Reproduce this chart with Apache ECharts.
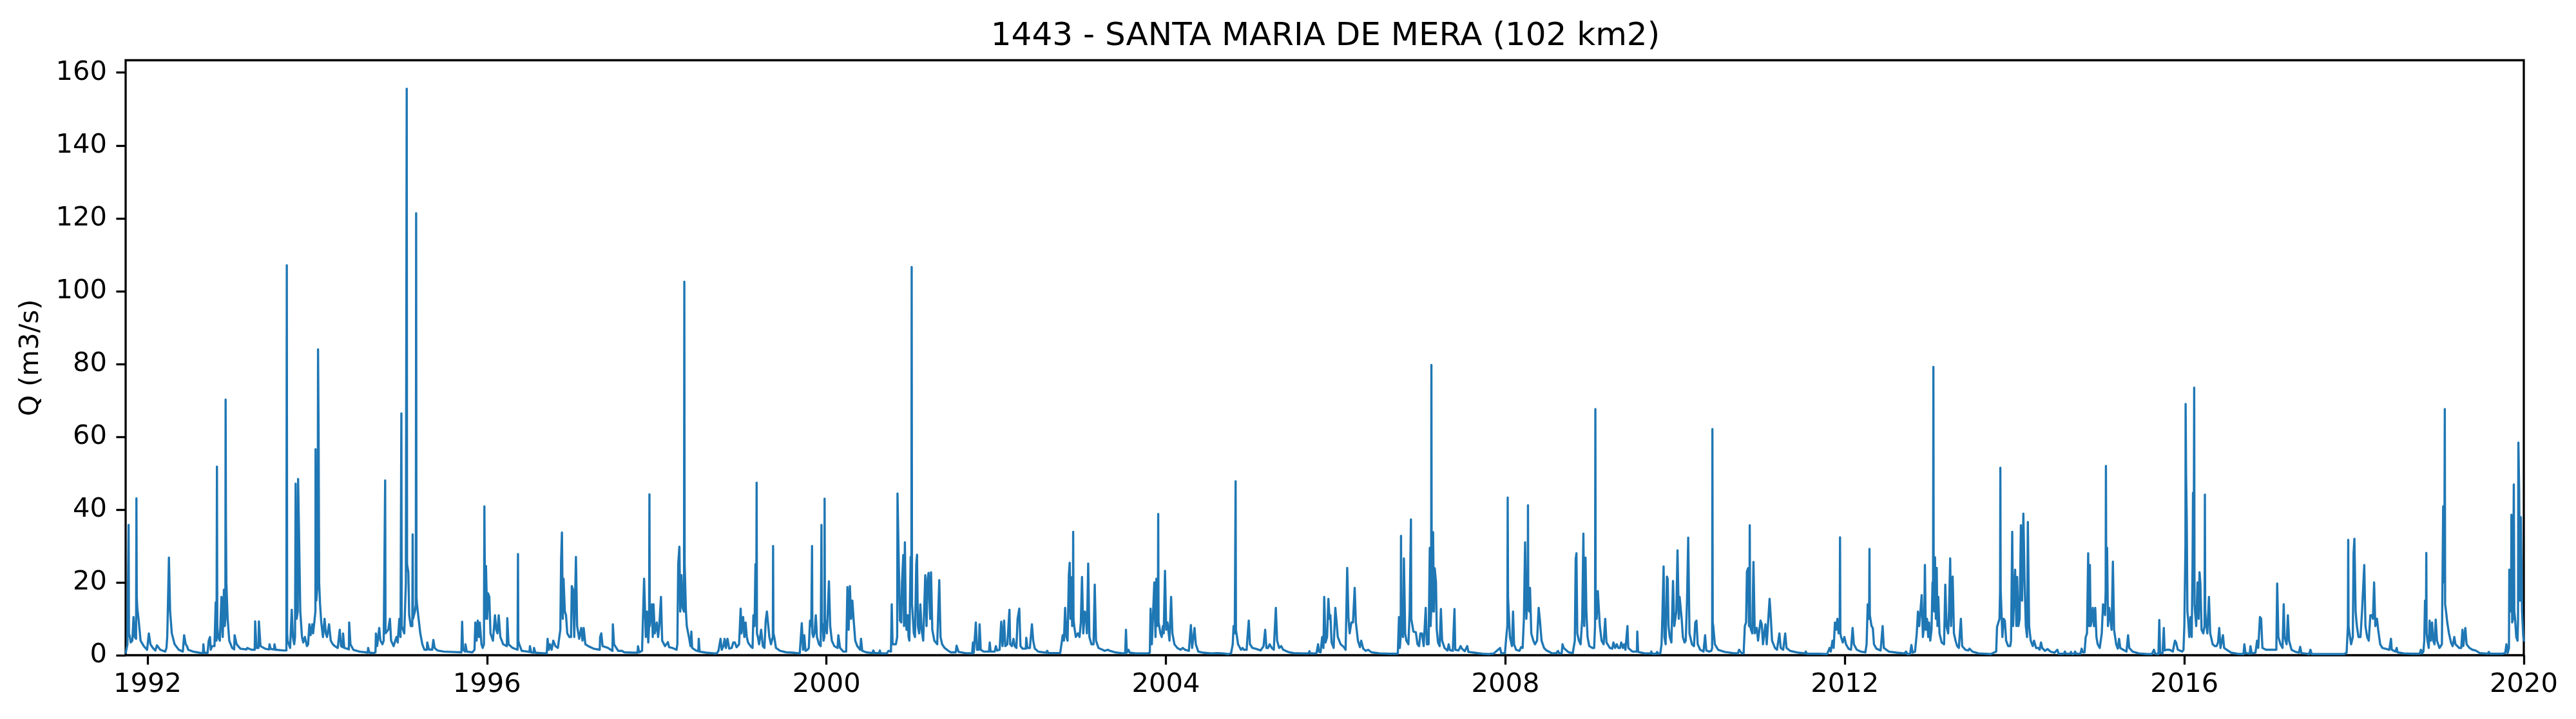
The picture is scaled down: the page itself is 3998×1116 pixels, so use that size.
<!DOCTYPE html>
<html><head><meta charset="utf-8">
<style>html,body{margin:0;padding:0;background:#fff}#c{width:3998px;height:1116px}</style>
<script src="https://cdn.jsdelivr.net/npm/echarts@6/dist/echarts.min.js"></script>
</head><body><div id="c"></div>
<script>
const titleText = '1443 - SANTA MARIA DE MERA (102 km2)';
const yName = 'Q (m3/s)';
const xTicks = [1992,1996,2000,2004,2008,2012,2016,2020];
const yTicks = [0,20,40,60,80,100,120,140,160];
const flow1991 = [[1991.743,.7],[1991.763,3],[1991.775,3],[1991.777,35.8],[1991.781,6],[1991.792,5],[1991.802,3.5],[1991.821,4],[1991.835,10.5],[1991.850,5],[1991.865,4.5],[1991.869,43.1],[1991.873,16],[1991.879,13],[1991.898,9],[1991.918,4],[1991.956,2.5],[1991.995,1.5]];
const flow1992 = [[1992.010,1.2],[1992.015,6],[1992.034,3],[1992.063,2],[1992.092,1.3],[1992.111,2.7],[1992.150,1.5],[1992.208,1],[1992.223,2],[1992.232,5],[1992.237,10],[1992.252,26.8],[1992.266,12],[1992.286,6],[1992.319,3],[1992.368,1.5],[1992.416,1],[1992.426,1],[1992.431,5.5],[1992.450,3],[1992.465,2.5],[1992.479,1.5],[1992.537,1],[1992.586,.8],[1992.634,.6],[1992.653,.6],[1992.658,3],[1992.668,.7],[1992.707,.6],[1992.721,4],[1992.736,5],[1992.745,1.5],[1992.760,2.5],[1992.789,2.5],[1992.803,14.5],[1992.813,4],[1992.818,51.8],[1992.822,8],[1992.832,5],[1992.852,4],[1992.871,16],[1992.886,5],[1992.900,18],[1992.910,8],[1992.917,10],[1992.920,70.2],[1992.924,36],[1992.929,20],[1992.944,10],[1992.963,4],[1992.997,2]];
const flow1993 = [[1993.021,1.6],[1993.026,5.5],[1993.050,3],[1993.094,1.8],[1993.166,1.6],[1993.176,2],[1993.225,1.5],[1993.263,1.5],[1993.268,9.3],[1993.283,2],[1993.307,2],[1993.312,9.3],[1993.331,2.5],[1993.384,1.8],[1993.433,1.6],[1993.437,3],[1993.452,1.7],[1993.491,1.6],[1993.496,3],[1993.510,1.5],[1993.602,1.3],[1993.636,1.3],[1993.641,107.1],[1993.645,6],[1993.650,4],[1993.680,2],[1993.694,2],[1993.699,12.5],[1993.713,5],[1993.728,3],[1993.738,5],[1993.745,47.1],[1993.757,10],[1993.770,12],[1993.774,48.4],[1993.786,32],[1993.800,12],[1993.820,5],[1993.834,3.5],[1993.854,5],[1993.878,2.5],[1993.892,3],[1993.907,8.5],[1993.921,5.5],[1993.941,8.5],[1993.951,6],[1993.965,9],[1993.978,12],[1993.980,56.6],[1993.989,15]];
const flow1994 = [[1994.005,20],[1994.009,84],[1994.016,59.6],[1994.022,20],[1994.033,14],[1994.047,9],[1994.067,5],[1994.086,10],[1994.101,6],[1994.115,5],[1994.139,8.5],[1994.159,4],[1994.183,3],[1994.207,2.5],[1994.241,2],[1994.265,7],[1994.280,2.5],[1994.299,2.2],[1994.304,6],[1994.318,2],[1994.352,1.8],[1994.372,1.6],[1994.376,9],[1994.391,3],[1994.425,1.5],[1994.497,1],[1994.570,.8],[1994.594,.7],[1994.599,2],[1994.614,.7],[1994.667,.6],[1994.686,.8],[1994.691,6],[1994.706,2.5],[1994.730,7.5],[1994.744,4],[1994.768,3],[1994.783,4],[1994.796,4],[1994.800,48],[1994.804,6],[1994.836,7],[1994.856,10],[1994.870,4],[1994.899,2.5],[1994.933,5],[1994.948,3.5],[1994.967,10],[1994.981,5],[1994.988,5],[1994.991,66.4],[1994.995,8]];
const flow1995 = [[1995.025,6],[1995.044,20],[1995.051,20],[1995.054,155.6],[1995.058,25],[1995.073,22.8],[1995.083,11],[1995.102,8],[1995.120,8],[1995.124,33.2],[1995.128,10],[1995.151,12],[1995.161,14],[1995.165,121.4],[1995.169,16],[1995.175,14],[1995.194,10],[1995.214,6],[1995.238,3],[1995.262,1.5],[1995.291,1.5],[1995.296,3.5],[1995.315,1.6],[1995.354,1.5],[1995.368,4.2],[1995.383,2],[1995.417,1.3],[1995.490,1],[1995.586,.9],[1995.698,.8],[1995.707,9.2],[1995.717,1.5],[1995.741,1],[1995.746,3],[1995.761,1],[1995.828,.8],[1995.853,1.5],[1995.862,9],[1995.877,4],[1995.891,9.5],[1995.906,5],[1995.915,9],[1995.935,3],[1995.949,2],[1995.964,3],[1995.969,40.9],[1995.978,10],[1995.988,24.5]];
const flow1996 = [[1996.002,10],[1996.012,17],[1996.027,16],[1996.041,6],[1996.070,4],[1996.094,11],[1996.109,7],[1996.123,6],[1996.138,11],[1996.157,5],[1996.191,3],[1996.234,2.5],[1996.239,10.2],[1996.254,3],[1996.302,2],[1996.360,1.5],[1996.365,27.8],[1996.369,4],[1996.380,3],[1996.409,1.2],[1996.481,1],[1996.501,.9],[1996.506,2.5],[1996.520,.8],[1996.549,.7],[1996.554,2],[1996.569,.7],[1996.627,.6],[1996.704,.5],[1996.714,4.5],[1996.728,1.5],[1996.743,3],[1996.762,1.5],[1996.781,4],[1996.806,2.5],[1996.835,2],[1996.864,7],[1996.873,26],[1996.883,33.7],[1996.893,10],[1996.902,21],[1996.917,12],[1996.931,11],[1996.946,6],[1996.970,5],[1996.990,5],[1996.999,19]];
const flow1997 = [[1997.014,18],[1997.028,5],[1997.043,5],[1997.048,27],[1997.062,8],[1997.086,4.5],[1997.110,7.5],[1997.125,4],[1997.139,7.5],[1997.159,3],[1997.193,2.5],[1997.256,1.8],[1997.328,1.5],[1997.333,5],[1997.347,6],[1997.362,2.5],[1997.425,2],[1997.478,1.2],[1997.483,8.5],[1997.497,3],[1997.546,1.2],[1997.590,1.2],[1997.619,.8],[1997.716,.7],[1997.774,.7],[1997.779,2.5],[1997.793,.8],[1997.827,1.2],[1997.842,1.5],[1997.851,21],[1997.871,5],[1997.885,12],[1997.900,3.5],[1997.910,8],[1997.914,44.2],[1997.918,8],[1997.943,14],[1997.953,5],[1997.962,14],[1997.977,6]];
const flow1998 = [[1998.001,9],[1998.016,5],[1998.030,8],[1998.050,16],[1998.064,4],[1998.098,2.5],[1998.132,3.6],[1998.146,2.2],[1998.185,2],[1998.233,1.5],[1998.243,3],[1998.253,25],[1998.267,29.8],[1998.277,12],[1998.291,22],[1998.306,13],[1998.321,12],[1998.325,102.6],[1998.329,25],[1998.335,25],[1998.344,12],[1998.354,8],[1998.379,5],[1998.398,2.5],[1998.408,6.5],[1998.417,2],[1998.461,1.3],[1998.490,1.1],[1998.495,4.5],[1998.505,1],[1998.582,.7],[1998.679,.5],[1998.708,.5],[1998.727,1.2],[1998.752,4.5],[1998.766,1.5],[1998.786,2.5],[1998.800,4.5],[1998.815,2],[1998.834,4.5],[1998.854,1.8],[1998.883,2],[1998.902,3.5],[1998.921,3.5],[1998.941,2.2],[1998.970,3],[1998.989,12.8],[1998.998,6]];
const flow1999 = [[1999.018,10.5],[1999.032,5],[1999.047,9],[1999.061,5],[1999.076,3.5],[1999.105,2.5],[1999.129,2],[1999.139,11],[1999.153,8],[1999.163,25],[1999.173,12],[1999.177,47.4],[1999.181,6],[1999.192,5],[1999.206,3],[1999.230,7],[1999.250,2.5],[1999.269,2],[1999.284,9.5],[1999.298,12],[1999.313,12],[1999.327,5],[1999.346,3],[1999.368,5],[1999.371,30],[1999.375,6],[1999.385,5],[1999.405,2],[1999.453,1.2],[1999.526,.8],[1999.598,.7],[1999.685,.5],[1999.700,.5],[1999.709,8.8],[1999.724,1.5],[1999.738,5.5],[1999.753,1.2],[1999.777,1.5],[1999.792,2],[1999.806,9.5],[1999.821,8],[1999.827,8],[1999.830,30],[1999.834,6],[1999.845,5],[1999.859,6],[1999.874,11],[1999.888,5],[1999.912,3],[1999.932,2.5],[1999.941,35.8],[1999.945,9],[1999.956,8],[1999.966,4],[1999.975,5],[1999.978,43],[1999.982,10],[1999.990,8]];
const flow2000 = [[2000.005,6],[2000.029,20.3],[2000.044,8],[2000.063,4],[2000.092,2.5],[2000.131,2],[2000.140,5.5],[2000.160,2],[2000.198,1],[2000.232,1],[2000.247,18.7],[2000.261,7],[2000.276,19],[2000.290,10],[2000.305,15],[2000.319,10],[2000.339,4],[2000.363,2.5],[2000.397,1.5],[2000.407,4.5],[2000.421,1.2],[2000.469,.8],[2000.542,.6],[2000.552,1.3],[2000.566,.6],[2000.619,.6],[2000.629,1.3],[2000.639,.5],[2000.711,.5],[2000.731,1.2],[2000.745,1.5],[2000.760,1],[2000.769,14],[2000.779,3],[2000.798,3],[2000.818,3],[2000.833,5],[2000.837,44.4],[2000.852,25],[2000.866,9.5],[2000.881,9],[2000.890,20],[2000.905,27.5],[2000.914,8],[2000.924,31],[2000.934,12],[2000.943,7],[2000.958,11],[2000.967,5],[2000.977,4],[2000.992,27]];
const flow2001 = [[2001.000,15],[2001.004,106.6],[2001.008,14],[2001.014,12],[2001.029,6],[2001.043,5],[2001.058,25],[2001.067,27.6],[2001.077,8],[2001.092,6],[2001.106,14],[2001.121,7],[2001.140,4],[2001.150,4],[2001.164,22],[2001.179,8],[2001.193,21],[2001.203,22.6],[2001.213,22.7],[2001.222,10],[2001.232,22.8],[2001.247,7],[2001.271,4],[2001.305,3],[2001.329,20.6],[2001.344,5],[2001.363,3],[2001.392,2],[2001.431,1.3],[2001.465,.8],[2001.523,.8],[2001.533,2.6],[2001.542,2.6],[2001.557,.9],[2001.634,.6],[2001.716,.5],[2001.726,3.5],[2001.736,.7],[2001.750,.7],[2001.760,9],[2001.774,1.5],[2001.794,1.5],[2001.804,8.5],[2001.818,1.5],[2001.852,1],[2001.915,1],[2001.924,3.5],[2001.934,1],[2001.982,1],[2001.996,2.5]];
const flow2002 = [[2002.011,1.3],[2002.040,1.5],[2002.059,9.2],[2002.074,2.5],[2002.093,9.5],[2002.107,2.5],[2002.131,3],[2002.156,12.5],[2002.165,3],[2002.185,2.5],[2002.204,4.5],[2002.218,2.5],[2002.238,2],[2002.252,10],[2002.272,12.8],[2002.286,2.5],[2002.311,1.8],[2002.349,1.8],[2002.354,4.8],[2002.368,2],[2002.397,2],[2002.421,8.5],[2002.436,4],[2002.455,1.8],[2002.494,1],[2002.552,.8],[2002.596,.7],[2002.600,1.2],[2002.615,.6],[2002.696,.6],[2002.754,.6],[2002.769,3],[2002.783,5.5],[2002.798,4],[2002.812,13],[2002.827,5],[2002.841,4],[2002.856,22],[2002.866,25.4],[2002.875,10],[2002.885,21.4],[2002.895,8],[2002.903,9],[2002.907,33.9],[2002.911,10],[2002.919,8],[2002.938,5],[2002.962,6],[2002.982,5],[2002.997,9]];
const flow2003 = [[2003.011,21.5],[2003.026,6],[2003.045,12],[2003.060,10],[2003.069,6],[2003.084,25.2],[2003.098,5],[2003.122,3],[2003.147,3],[2003.161,19.4],[2003.176,4],[2003.205,2],[2003.253,1.5],[2003.277,1.2],[2003.316,1.5],[2003.340,1.2],[2003.398,.8],[2003.471,.6],[2003.520,.5],[2003.529,7],[2003.539,.7],[2003.558,1.5],[2003.573,.7],[2003.640,.5],[2003.785,.5],[2003.810,.7],[2003.819,12.8],[2003.834,3],[2003.848,3],[2003.863,20],[2003.877,5],[2003.887,21],[2003.897,8],[2003.905,9],[2003.909,38.8],[2003.913,9],[2003.921,8],[2003.935,6],[2003.950,5],[2003.964,8],[2003.974,6],[2003.989,23.2]];
const flow2004 = [[2004.003,7],[2004.018,9],[2004.032,9],[2004.042,4],[2004.061,16],[2004.076,6],[2004.100,3],[2004.134,2],[2004.173,1.5],[2004.197,2],[2004.226,1.5],[2004.270,1.2],[2004.294,8.3],[2004.308,2],[2004.337,7.5],[2004.352,3],[2004.381,1],[2004.439,.7],[2004.536,.5],[2004.608,.6],[2004.618,.5],[2004.671,.5],[2004.729,.3],[2004.767,.5],[2004.787,3],[2004.797,8],[2004.811,6],[2004.817,6],[2004.821,47.8],[2004.825,7],[2004.831,6],[2004.850,3],[2004.884,1.5],[2004.903,2],[2004.918,1.5],[2004.951,1.5],[2004.961,5],[2004.976,9.5],[2004.990,3]];
const flow2005 = [[2005.019,2],[2005.068,1.7],[2005.116,1.3],[2005.150,2.5],[2005.169,7],[2005.184,2],[2005.203,2],[2005.222,3],[2005.247,2],[2005.271,1.5],[2005.295,13],[2005.310,4],[2005.334,2],[2005.358,2.5],[2005.382,1.5],[2005.431,1],[2005.454,.8],[2005.503,.6],[2005.599,.5],[2005.682,.5],[2005.691,1.1],[2005.701,.5],[2005.773,.5],[2005.793,3],[2005.802,1],[2005.822,.8],[2005.841,5],[2005.856,2],[2005.865,16],[2005.880,3.5],[2005.899,5],[2005.914,15.5],[2005.928,10],[2005.938,11],[2005.952,3.5],[2005.976,2],[2005.996,13]];
const flow2006 = [[2006.011,9],[2006.025,5],[2006.059,3],[2006.098,2.2],[2006.117,1.5],[2006.136,24],[2006.151,10],[2006.165,6],[2006.185,9],[2006.204,9],[2006.224,18.5],[2006.238,9],[2006.262,4],[2006.286,2.2],[2006.301,4],[2006.325,1.8],[2006.354,1.2],[2006.383,1.5],[2006.422,.8],[2006.519,.5],[2006.640,.4],[2006.732,.4],[2006.746,10.5],[2006.756,2],[2006.766,5],[2006.770,32.8],[2006.774,8],[2006.785,8],[2006.794,5],[2006.804,26.6],[2006.819,6],[2006.833,4],[2006.857,3],[2006.872,12],[2006.884,12],[2006.887,37.3],[2006.891,10],[2006.916,6.5],[2006.945,6.3],[2006.964,3],[2006.983,2.5],[2006.998,6]];
const flow2007 = [[2007.017,6],[2007.037,2.5],[2007.061,13],[2007.075,3],[2007.095,3],[2007.109,29.5],[2007.119,8],[2007.125,12],[2007.128,79.7],[2007.132,12],[2007.138,12],[2007.148,33.8],[2007.157,12],[2007.167,23.9],[2007.182,20],[2007.191,7],[2007.206,3.5],[2007.225,2.5],[2007.240,12.7],[2007.254,4],[2007.283,2],[2007.317,1.3],[2007.332,3],[2007.346,1.4],[2007.380,1.2],[2007.400,12.7],[2007.409,1.5],[2007.448,1.3],[2007.472,2.5],[2007.487,1.8],[2007.521,1.1],[2007.550,2.5],[2007.564,.9],[2007.632,.7],[2007.729,.4],[2007.802,.3],[2007.835,.4],[2007.859,.4],[2007.874,.5],[2007.937,2],[2007.952,.5],[2007.995,.6]];
const flow2008 = [[2008.010,5],[2008.023,8],[2008.027,43.3],[2008.031,16],[2008.039,16],[2008.053,5],[2008.077,2.5],[2008.090,12],[2008.102,3],[2008.126,1.5],[2008.165,1.2],[2008.184,2.2],[2008.203,2],[2008.218,10],[2008.232,31],[2008.247,10],[2008.257,15],[2008.263,14],[2008.266,41.2],[2008.270,13],[2008.281,12],[2008.290,18.5],[2008.305,6],[2008.329,4],[2008.348,3],[2008.373,4],[2008.392,13],[2008.407,9.5],[2008.426,4],[2008.455,2],[2008.484,1.3],[2008.528,.8],[2008.552,.5],[2008.600,.6],[2008.620,1.2],[2008.634,.5],[2008.663,.5],[2008.673,3],[2008.687,2],[2008.745,.8],[2008.794,.6],[2008.818,4],[2008.828,26.4],[2008.837,28],[2008.847,6],[2008.866,4],[2008.886,3],[2008.905,10],[2008.919,33.4],[2008.929,8],[2008.944,26.8],[2008.954,12],[2008.968,5],[2008.988,2.5]];
const flow2009 = [[2009.026,2],[2009.046,2],[2009.056,8],[2009.060,67.6],[2009.064,12],[2009.075,10],[2009.089,17.6],[2009.099,17.6],[2009.113,8],[2009.133,4],[2009.157,3],[2009.176,10],[2009.191,3.5],[2009.230,2],[2009.259,1.8],[2009.273,3.5],[2009.293,2],[2009.312,3],[2009.331,2],[2009.351,2],[2009.365,3.5],[2009.385,2],[2009.399,3],[2009.414,1.5],[2009.438,8],[2009.448,2],[2009.496,1],[2009.549,1],[2009.554,6.5],[2009.564,.9],[2009.641,.5],[2009.714,.5],[2009.719,1],[2009.729,.4],[2009.777,.4],[2009.787,.9],[2009.801,.4],[2009.825,.5],[2009.840,3],[2009.850,11],[2009.864,24.4],[2009.874,5],[2009.888,3],[2009.903,21.6],[2009.912,21],[2009.922,8],[2009.937,5],[2009.956,3.5],[2009.975,20.4],[2009.990,8]];
const flow2010 = [[2010.014,12],[2010.028,28.8],[2010.043,10],[2010.053,16],[2010.062,16],[2010.077,10],[2010.091,5],[2010.111,3.5],[2010.125,4],[2010.140,15],[2010.154,32.3],[2010.169,6],[2010.198,3],[2010.222,2.5],[2010.237,9],[2010.251,9.5],[2010.266,3],[2010.295,1.5],[2010.334,1],[2010.353,5.5],[2010.367,1.3],[2010.401,1],[2010.411,1],[2010.426,1.2],[2010.436,2],[2010.439,62.1],[2010.443,9],[2010.449,8],[2010.468,3],[2010.507,1.5],[2010.584,.9],[2010.681,.6],[2010.739,.5],[2010.754,1.5],[2010.768,1],[2010.788,.5],[2010.807,.5],[2010.821,8],[2010.836,9],[2010.846,23],[2010.860,23.9],[2010.870,8],[2010.875,9],[2010.879,35.7],[2010.884,8],[2010.894,7],[2010.909,6],[2010.923,25.6],[2010.938,6],[2010.962,7.5],[2010.977,4]];
const flow2011 = [[2011.006,9.5],[2011.021,8.5],[2011.035,3],[2011.064,8.5],[2011.079,3],[2011.113,15.5],[2011.128,10],[2011.142,4],[2011.176,2],[2011.200,1.5],[2011.229,6],[2011.244,2],[2011.273,1.5],[2011.297,6],[2011.312,2],[2011.355,1.2],[2011.452,.7],[2011.534,.5],[2011.539,1],[2011.553,.4],[2011.694,.4],[2011.791,.3],[2011.820,2],[2011.834,1],[2011.854,4],[2011.868,2],[2011.883,9],[2011.897,7],[2011.912,10],[2011.926,6],[2011.939,7],[2011.943,32.4],[2011.947,6],[2011.955,5],[2011.975,3.5],[2011.994,5]];
const flow2012 = [[2012.014,3],[2012.043,1.8],[2012.072,1.5],[2012.091,7.5],[2012.106,3],[2012.140,1.5],[2012.188,1],[2012.242,.8],[2012.256,3],[2012.269,14],[2012.281,10],[2012.286,11],[2012.290,29.2],[2012.294,11],[2012.300,11],[2012.314,8],[2012.329,7.5],[2012.343,3],[2012.372,1.8],[2012.421,1.3],[2012.445,8],[2012.459,2],[2012.518,1],[2012.614,.7],[2012.702,.5],[2012.721,1],[2012.736,.3],[2012.769,.4],[2012.784,2.8],[2012.798,.7],[2012.827,1],[2012.847,6],[2012.861,12],[2012.876,8],[2012.890,12],[2012.905,16.5],[2012.919,5],[2012.934,8],[2012.943,24.8],[2012.953,7],[2012.968,10],[2012.982,5],[2012.992,9]];
const flow2013 = [[2013.006,4],[2013.021,7],[2013.033,20],[2013.039,15],[2013.043,79.2],[2013.047,14],[2013.053,12],[2013.062,26.9],[2013.072,10],[2013.082,24],[2013.091,8],[2013.101,16],[2013.115,6],[2013.140,3.5],[2013.169,3],[2013.183,19.4],[2013.198,8],[2013.217,6],[2013.227,12],[2013.241,26.6],[2013.251,8],[2013.261,16],[2013.270,21.6],[2013.285,6],[2013.304,4],[2013.323,2.5],[2013.343,2],[2013.367,10],[2013.382,2.5],[2013.421,1.5],[2013.454,1.3],[2013.469,1.8],[2013.503,1],[2013.575,.5],[2013.720,.3],[2013.754,.7],[2013.769,.5],[2013.783,1],[2013.793,7.8],[2013.807,7.8],[2013.822,10],[2013.829,18],[2013.832,51.5],[2013.836,18],[2013.841,18],[2013.856,5],[2013.871,10],[2013.885,9.5],[2013.900,4],[2013.924,2.5],[2013.948,2.5],[2013.958,4],[2013.972,33.9],[2013.982,8],[2013.996,8]];
const flow2014 = [[2014.006,23.5],[2014.021,8],[2014.030,21.5],[2014.045,8],[2014.059,10],[2014.074,35.7],[2014.088,15],[2014.103,38.9],[2014.118,20],[2014.132,8],[2014.147,5],[2014.156,36.6],[2014.171,8],[2014.190,4],[2014.214,2.5],[2014.229,4],[2014.253,2],[2014.277,2],[2014.295,1.5],[2014.311,3.5],[2014.325,2],[2014.359,1.2],[2014.388,1.7],[2014.422,1],[2014.471,.7],[2014.504,1.5],[2014.519,.4],[2014.582,.4],[2014.592,1],[2014.606,.4],[2014.654,.4],[2014.664,.9],[2014.678,.3],[2014.703,.4],[2014.713,1],[2014.727,.4],[2014.775,.4],[2014.790,1.8],[2014.804,.8],[2014.824,.8],[2014.838,5],[2014.853,6],[2014.867,28],[2014.877,8],[2014.887,24.8],[2014.896,8],[2014.911,10],[2014.921,13],[2014.935,8],[2014.950,13],[2014.964,5],[2014.979,3]];
const flow2015 = [[2015.003,2],[2015.027,6],[2015.042,14],[2015.051,14],[2015.066,11],[2015.073,18],[2015.076,52],[2015.080,20],[2015.085,18],[2015.090,29.5],[2015.100,8],[2015.114,13],[2015.129,13],[2015.143,7],[2015.158,25.7],[2015.172,7],[2015.197,3],[2015.216,1.8],[2015.231,4.5],[2015.245,2],[2015.279,1.5],[2015.318,1],[2015.337,5.5],[2015.351,2],[2015.390,1],[2015.463,.5],[2015.560,.3],[2015.618,.3],[2015.627,.3],[2015.642,1.5],[2015.656,.4],[2015.695,.3],[2015.705,9.7],[2015.714,.7],[2015.743,.5],[2015.758,7.5],[2015.768,1.3],[2015.792,1.5],[2015.826,1.5],[2015.864,1],[2015.889,4],[2015.903,3.5],[2015.923,1.5],[2015.976,1],[2015.990,1.5]];
const flow2016 = [[2016.000,8],[2016.010,25],[2016.013,30],[2016.015,69],[2016.021,49],[2016.028,37.9],[2016.036,12],[2016.044,10],[2016.058,5],[2016.073,10.5],[2016.087,5],[2016.097,25],[2016.102,44.6],[2016.112,40],[2016.116,73.5],[2016.120,14],[2016.126,12],[2016.140,8],[2016.155,20],[2016.169,10],[2016.179,22.8],[2016.189,19.7],[2016.203,7],[2016.223,6],[2016.238,8],[2016.242,44.1],[2016.246,12],[2016.252,10],[2016.271,6],[2016.290,16],[2016.305,6],[2016.334,3],[2016.358,2.5],[2016.380,2.5],[2016.397,3.5],[2016.411,7.5],[2016.426,2],[2016.440,2],[2016.455,5.5],[2016.469,2],[2016.499,1.5],[2016.552,.7],[2016.624,.4],[2016.697,.3],[2016.707,3],[2016.721,.6],[2016.770,.4],[2016.779,2.5],[2016.794,.5],[2016.838,.7],[2016.857,4],[2016.871,2],[2016.891,10.5],[2016.905,10],[2016.920,2],[2016.963,1.5]];
const flow2017 = [[2017.012,1.5],[2017.060,1.5],[2017.084,1.5],[2017.094,19.7],[2017.108,5],[2017.133,3],[2017.157,2],[2017.171,14],[2017.181,5],[2017.205,3],[2017.220,11],[2017.234,4],[2017.263,1.5],[2017.302,1],[2017.350,.7],[2017.365,2.3],[2017.379,.6],[2017.471,.3],[2017.486,1.5],[2017.500,.3],[2017.641,.3],[2017.883,.3],[2017.912,.7],[2017.921,5],[2017.927,8],[2017.931,31.7],[2017.935,8],[2017.946,6],[2017.965,3],[2017.985,5],[2017.994,28]];
const flow2018 = [[2018.004,32],[2018.018,12],[2018.033,8],[2018.052,5],[2018.076,5],[2018.096,13],[2018.110,13],[2018.120,24.8],[2018.134,8],[2018.154,5],[2018.173,4],[2018.192,11],[2018.212,11],[2018.222,10],[2018.236,20],[2018.250,8],[2018.270,10],[2018.284,7],[2018.308,3],[2018.333,2],[2018.367,1.8],[2018.415,1.5],[2018.435,4.5],[2018.444,1.5],[2018.488,1],[2018.502,2],[2018.512,.8],[2018.584,.5],[2018.599,.8],[2018.681,.4],[2018.773,.4],[2018.788,1.5],[2018.802,.5],[2018.817,1],[2018.827,4],[2018.836,15],[2018.847,8],[2018.851,28.1],[2018.855,6],[2018.865,4],[2018.880,2],[2018.890,9.5],[2018.904,4],[2018.919,9],[2018.933,4],[2018.948,3],[2018.962,9.8],[2018.977,4]];
const flow2019 = [[2019.006,2],[2019.035,3],[2019.050,40.9],[2019.059,40.9],[2019.063,20],[2019.069,67.6],[2019.073,14],[2019.084,12],[2019.098,9],[2019.118,6],[2019.142,3.5],[2019.161,2.5],[2019.181,5],[2019.195,3],[2019.239,2],[2019.263,2],[2019.277,7],[2019.287,2.5],[2019.311,7.5],[2019.326,3],[2019.360,2],[2019.393,1.5],[2019.432,1.3],[2019.481,.6],[2019.578,.4],[2019.587,.9],[2019.602,.4],[2019.747,.4],[2019.781,.6],[2019.795,3],[2019.810,.6],[2019.825,2],[2019.829,23.5],[2019.844,23],[2019.850,12],[2019.854,38.6],[2019.863,9],[2019.873,10],[2019.882,46.9],[2019.888,12],[2019.897,10],[2019.911,5],[2019.926,4],[2019.932,10],[2019.936,58.4],[2019.945,45.5],[2019.955,15],[2019.965,37.9],[2019.979,12],[2019.994,5]];
const flow2020 = [[2020.003,4]];
const flowSeries = [].concat(flow1991,flow1992,flow1993,flow1994,flow1995,flow1996,flow1997,flow1998,flow1999,flow2000,flow2001,flow2002,flow2003,flow2004,flow2005,flow2006,flow2007,flow2008,flow2009,flow2010,flow2011,flow2012,flow2013,flow2014,flow2015,flow2016,flow2017,flow2018,flow2019,flow2020);

const chart = echarts.init(document.getElementById('c'), null, {renderer:'canvas'});
const font = '"DejaVu Sans"';
chart.setOption({
  animation:false,
  backgroundColor:'#fff',
  title:{text:titleText,left:2052,top:27,textAlign:'center',textStyle:{fontFamily:font,fontSize:50,fontWeight:'normal',color:'#000'}},
  grid:{left:195,right:81,top:93.5,bottom:99,show:true,borderColor:'#000',borderWidth:3.3,backgroundColor:'transparent'},
  xAxis:{type:'value',min:1991.742,max:2020,
    splitLine:{show:false},
    axisLine:{show:false},
    axisTick:{show:true,length:14.6,lineStyle:{color:'#000',width:3.3},customValues:xTicks},
    axisLabel:{show:true,margin:25,color:'#000',fontFamily:font,fontSize:41.67,customValues:xTicks,formatter:v=>String(v)}},
  yAxis:{type:'value',min:0,max:163.4,name:yName,nameLocation:'middle',nameGap:126,nameRotate:90,
    nameTextStyle:{fontFamily:font,fontSize:41.67,color:'#000'},
    splitLine:{show:false},
    axisLine:{show:false},
    axisTick:{show:true,length:14.6,lineStyle:{color:'#000',width:3.3},customValues:yTicks},
    axisLabel:{show:true,margin:29,color:'#000',fontFamily:font,fontSize:41.67,padding:[5,0,0,0],customValues:yTicks}},
  series:[{type:'line',data:flowSeries,showSymbol:false,symbol:'none',sampling:false,smooth:false,z:1,
    lineStyle:{color:'#1f77b4',width:3.4,join:'round',cap:'round'}}]
});
</script></body></html>
